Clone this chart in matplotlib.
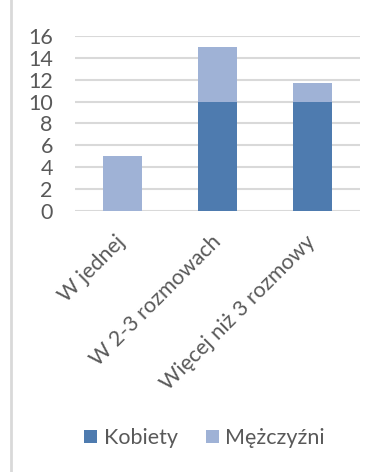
import matplotlib
matplotlib.use("Agg")
import matplotlib.pyplot as plt
import matplotlib.transforms as mtransforms
from matplotlib.lines import Line2D
import numpy as np

categories = ["W jednej", "W 2-3 rozmowach", "Więcej niż 3 rozmowy"]
kobiety = [0, 10, 10]
mezczyzni = [5, 5, 1.7]
series_names = ["Kobiety", "Mężczyźni"]
yticks = [0, 2, 4, 6, 8, 10, 12, 14, 16]

dark = "#4E7BAF"
light = "#9FB2D6"
grid_c = "#D9D9D9"
text_c = "#595959"
fs = 15.5

plt.rcParams['font.family'] = ['Lato', 'DejaVu Sans']

fig = plt.figure(figsize=(3.8, 4.72), dpi=100)
ax = fig.add_axes([75/380, 1-210.7/472, 285/380, (210.7-36)/472])

x = np.arange(len(categories))
w = 0.405
ax.bar(x, kobiety, w, color=dark, label=series_names[0], zorder=3)
ax.bar(x, mezczyzni, w, bottom=kobiety, color=light, label=series_names[1], zorder=3)

ax.set_xlim(-0.5, 2.5)
ax.set_ylim(0, 16)
ax.set_yticks(yticks)
ax.yaxis.grid(True, color=grid_c, linewidth=1.5, zorder=0)
ax.set_axisbelow(True)
for s in ax.spines.values():
    s.set_visible(False)
ax.tick_params(axis='y', length=0, labelsize=fs, labelcolor=text_c, pad=16)
ax.tick_params(axis='x', length=0)
ax.set_xticks(x)
ax.set_xticklabels([])

offset = mtransforms.ScaledTranslation(0/100, 0, fig.dpi_scale_trans)
trans = mtransforms.blended_transform_factory(ax.transData, ax.transAxes) + offset
for xi, lab in zip(x, categories):
    ax.text(xi, -28/174.7, lab, transform=trans, rotation=45, ha='right', va='center',
            rotation_mode='anchor', fontsize=fs, color=text_c)

handles, labels = ax.get_legend_handles_labels()
fig.legend(handles, labels, loc='center', bbox_to_anchor=(0.538, 1-438/472), ncol=2,
           frameon=False, fontsize=fs, labelcolor=text_c, handlelength=0.6,
           handleheight=0.6, handletextpad=0.3, columnspacing=1.3, borderaxespad=0)

fig.add_artist(Line2D([11/380, 11/380], [0, 1], transform=fig.transFigure,
                      color=grid_c, linewidth=2))

fig.savefig("out.png", dpi=100)
